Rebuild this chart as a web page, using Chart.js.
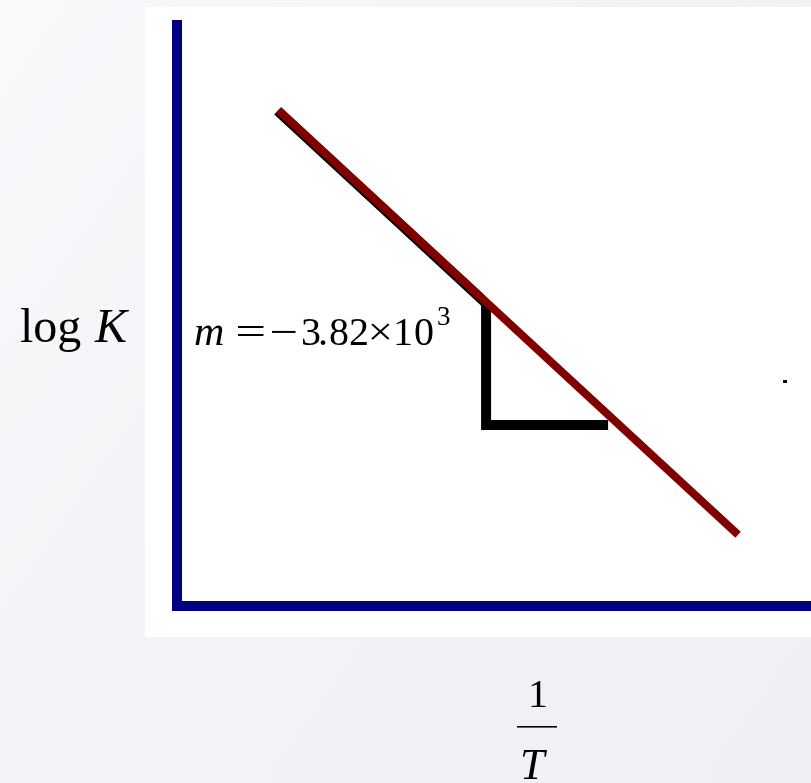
<!DOCTYPE html>
<html>
<head>
<meta charset="utf-8">
<script src="https://cdn.jsdelivr.net/npm/chart.js@4.4.1/dist/chart.umd.min.js"></script>
<style>
  html, body { margin: 0; padding: 0; width: 811px; height: 783px; overflow: hidden;
    background: linear-gradient(125deg, #f8f9fb 0%, #f2f3f6 45%, #eef0f4 100%); }
  #wrap { position: relative; width: 811px; height: 783px; }
</style>
</head>
<body>
<div id="wrap"><canvas id="c" width="811" height="783"></canvas></div>
<script>
// van 't Hoff plot: log K against 1/T, fitted straight line
const invT = [0.00232, 0.00377];
const logK = [6.47, 0.93];
const slopeText = ['3.82', '10', '3'];   // m = -3.82 x 10^3

// right-angle slope triangle under the line (1/T, log K)
const triInvT = [0.002975, 0.002975, 0.00336];
const triLogK = [3.97, 2.36, 2.36];

// axis ranges (no ticks are shown)
const xRange = [0.0020, 0.0040];
const yRange = [0, 7.58];

const NAVY = '#000080';
const LINE_RED = '#800000';
const SERIF = '"Liberation Serif", "Times New Roman", serif';

// white plotting panel behind the axes
const panelPlugin = {
  id: 'panel',
  beforeDraw(chart) {
    const { ctx, chartArea: a } = chart;
    ctx.save();
    ctx.fillStyle = '#ffffff';
    ctx.fillRect(a.left - 32, a.top - 18, chart.width - (a.left - 32), (a.bottom + 31) - (a.top - 18));
    ctx.restore();
  }
};

// dark edge along the upper part of the fitted line
const edgePlugin = {
  id: 'edge',
  beforeDatasetDraw(chart, args) {
    if (args.index !== 0) return;
    const { ctx, chartArea: a } = chart;
    const meta = chart.getDatasetMeta(0);
    const xs = chart.scales.x;
    ctx.save();
    ctx.beginPath();
    ctx.rect(a.left, a.top, xs.getPixelForValue(0.00297) - a.left, a.bottom - a.top);
    ctx.clip();
    ctx.shadowColor = '#000000';
    ctx.shadowBlur = 0;
    ctx.shadowOffsetX = -1.5;
    ctx.shadowOffsetY = 1.5;
    meta.dataset.draw(ctx, a);
    ctx.restore();
  }
};

// place a glyph by its ink box; optional right edge stretches it horizontally
function glyph(ctx, text, inkLeft, baseline, font, inkRight) {
  ctx.font = font;
  const m = ctx.measureText(text);
  const w = m.actualBoundingBoxLeft + m.actualBoundingBoxRight;
  const sx = inkRight ? (inkRight - inkLeft) / w : 1;
  ctx.save();
  ctx.translate(inkLeft, baseline);
  ctx.scale(sx, 1);
  ctx.textAlign = 'left';
  ctx.textBaseline = 'alphabetic';
  ctx.fillText(text, m.actualBoundingBoxLeft, 0);
  ctx.restore();
}

// axis titles and the slope annotation
const labelPlugin = {
  id: 'labels',
  afterDraw(chart) {
    const ctx = chart.ctx;
    ctx.save();
    ctx.fillStyle = '#000000';

    // y title: log K
    glyph(ctx, 'log', 20, 342, '48px ' + SERIF);
    glyph(ctx, 'K', 94, 342, 'italic 48px ' + SERIF);

    // slope: m = -3.82 x 10^3
    const f = '40px ' + SERIF;
    glyph(ctx, 'm', 195, 345, 'italic 42px ' + SERIF);
    glyph(ctx, '=', 238, 345, f, 264);
    glyph(ctx, '\u2212', 272, 345, f, 296);
    glyph(ctx, slopeText[0][0], 302, 345, f);
    glyph(ctx, slopeText[0][1], 320, 345, f);
    glyph(ctx, slopeText[0][2], 330, 345, f);
    glyph(ctx, slopeText[0][3], 350, 345, f);
    glyph(ctx, '\u00d7', 371, 345, f, 390);
    glyph(ctx, slopeText[1][0], 396, 345, f);
    glyph(ctx, slopeText[1][1], 415, 345, f);
    glyph(ctx, slopeText[2], 438, 325, '27px ' + SERIF);

    // x title: 1 / T as a stacked fraction
    glyph(ctx, '1', 531, 707, '40px ' + SERIF);
    ctx.fillRect(517, 726, 40, 1.6);
    glyph(ctx, 'T', 522, 779, 'italic 44px ' + SERIF);

    // stray full stop at the right of the panel
    ctx.fillRect(783, 380, 4, 3);
    ctx.restore();
  }
};

const ctx = document.getElementById('c').getContext('2d');
new Chart(ctx, {
  type: 'line',
  data: {
    datasets: [
      {
        label: 'log K',
        data: invT.map((x, i) => ({ x, y: logK[i] })),
        borderColor: LINE_RED,
        borderWidth: 8,
        borderCapStyle: 'butt',
        pointRadius: 0,
        fill: false,
        tension: 0
      },
      {
        label: 'slope triangle',
        data: triInvT.map((x, i) => ({ x, y: triLogK[i] })),
        borderColor: '#000000',
        borderWidth: 10,
        borderCapStyle: 'butt',
        borderJoinStyle: 'miter',
        pointRadius: 0,
        fill: false,
        tension: 0
      }
    ]
  },
  options: {
    responsive: false,
    animation: false,
    devicePixelRatio: 1,
    layout: { autoPadding: false, padding: { left: 177, top: 25, right: 0, bottom: 177 } },
    plugins: { legend: { display: false }, tooltip: { enabled: false } },
    scales: {
      x: {
        type: 'linear', min: xRange[0], max: xRange[1],
        grid: { display: false, drawTicks: false }, ticks: { display: false },
        border: { display: true, color: NAVY, width: 10 }
      },
      y: {
        type: 'linear', min: yRange[0], max: yRange[1],
        grid: { display: false, drawTicks: false }, ticks: { display: false },
        border: { display: true, color: NAVY, width: 10 }
      }
    }
  },
  plugins: [panelPlugin, edgePlugin, labelPlugin]
});
</script>
</body>
</html>
